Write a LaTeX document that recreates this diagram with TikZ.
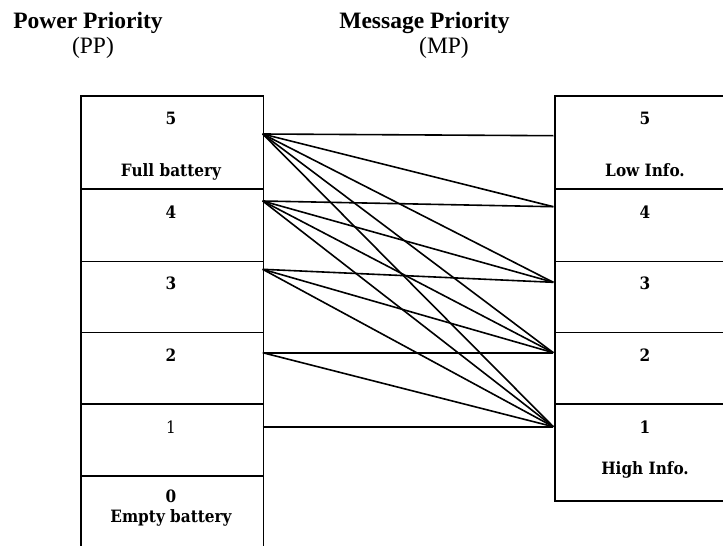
\documentclass[tikz,border=0pt]{standalone}
\usepackage{fontspec}
\setmainfont{Liberation Serif}
\newfontfamily\boxfont{DejaVu Serif Condensed}
\begin{document}
\begin{tikzpicture}[x=1pt,y=-1pt,
  cell/.style={draw=black,line width=1.7pt,rectangle,inner sep=0pt,minimum width=182.7pt,anchor=north west},
  ttl/.style={font=\fontsize{23.5}{26}\selectfont\bfseries,anchor=base,inner sep=0pt},
  sub/.style={font=\fontsize{23.5}{26}\selectfont,anchor=base,inner sep=0pt},
  lbl/.style={font=\boxfont\fontsize{17}{19}\selectfont\bfseries,anchor=base,inner sep=0pt},
  lblr/.style={font=\boxfont\fontsize{17}{19}\selectfont,anchor=base,inner sep=0pt},
  link/.style={draw=black,line width=1.6pt}]
\useasboundingbox (0,0) rectangle (723,546);
\clip (0,0) rectangle (723,546);
% titles
\node[ttl] (tpp) at (88,28) {Power Priority};
\node[sub] (spp) at (93,53) {(PP)};
\node[ttl] (tmp) at (424.5,28) {Message Priority};
\node[sub] (smp) at (444,53) {(MP)};
% left column
\node[cell,minimum height=93.3pt] (pp5) at (80,95) {};
\node[cell,minimum height=72.4pt] (pp4) at (80,188.3) {};
\node[cell,minimum height=71pt] (pp3) at (80,260.7) {};
\node[cell,minimum height=71.6pt] (pp2) at (80,331.7) {};
\node[cell,minimum height=71.7pt] (pp1) at (80,403.3) {};
\node[cell,minimum height=90pt] (pp0) at (80,475) {};
% right column
\node[cell,minimum height=93.3pt,minimum width=182pt] (mp5) at (554,95) {};
\node[cell,minimum height=72.4pt,minimum width=182pt] (mp4) at (554,188.3) {};
\node[cell,minimum height=71pt,minimum width=182pt] (mp3) at (554,260.7) {};
\node[cell,minimum height=71.6pt,minimum width=182pt] (mp2) at (554,331.7) {};
\node[cell,minimum height=96.7pt,minimum width=182pt] (mp1) at (554,403.3) {};
% left labels
\node[lbl] (pp5n) at (171,124) {5};
\node[lbl] (pp5t) at (171,176) {Full battery};
\node[lbl] (pp4n) at (171,218) {4};
\node[lbl] (pp3n) at (171,289) {3};
\node[lbl] (pp2n) at (171,361) {2};
\node[lblr] (pp1n) at (171,433) {1};
\node[lbl] (pp0n) at (171,502) {0};
\node[lbl] (pp0t) at (171,522) {Empty battery};
% right labels
\node[lbl] (mp5n) at (645,124) {5};
\node[lbl] (mp5t) at (645,176) {Low Info.};
\node[lbl] (mp4n) at (645,218) {4};
\node[lbl] (mp3n) at (645,289) {3};
\node[lbl] (mp2n) at (645,361) {2};
\node[lbl] (mp1n) at (645,433) {1};
\node[lbl] (mp1t) at (645,474) {High Info.};
% connector end points
\coordinate (L5) at (262.7,134);
\coordinate (L4) at (262.7,201);
\coordinate (L3) at (262.7,269.3);
\coordinate (L2) at (262.7,352.7);
\coordinate (L1) at (262.7,426.7);
\coordinate (R5) at (553.3,135.7);
\coordinate (R4) at (553.3,206.7);
\coordinate (R3) at (553.3,282.3);
\coordinate (R2) at (553.3,352.7);
\coordinate (R1) at (553.3,426.7);
% connectors
\draw[link] (L5) -- (R5);
\draw[link] (L5) -- (R4);
\draw[link] (L5) -- (R3);
\draw[link] (L5) -- (R2);
\draw[link] (L5) -- (R1);
\draw[link] (L4) -- (R4);
\draw[link] (L4) -- (R3);
\draw[link] (L4) -- (R2);
\draw[link] (L4) -- (R1);
\draw[link] (L3) -- (R3);
\draw[link] (L3) -- (R2);
\draw[link] (L3) -- (R1);
\draw[link] (L2) -- (R2);
\draw[link] (L2) -- (R1);
\draw[link] (L1) -- (R1);
\end{tikzpicture}
\end{document}
